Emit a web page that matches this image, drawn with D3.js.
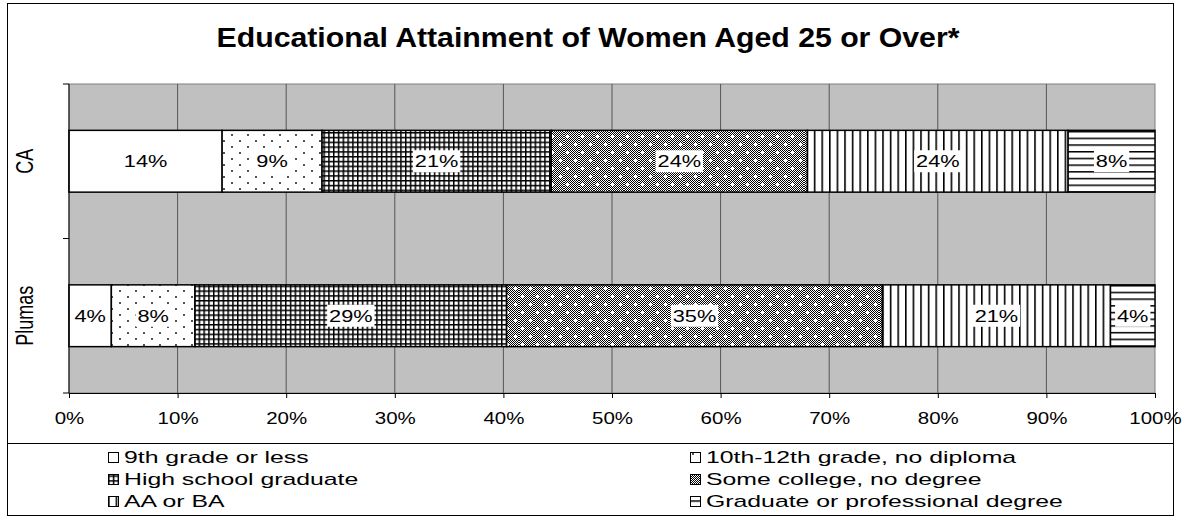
<!DOCTYPE html>
<html>
<head>
<meta charset="utf-8">
<script src="https://cdn.jsdelivr.net/npm/d3@7"></script>
<style>
  body { margin: 0; background: #fff; }
  text { font-family: "Liberation Sans", Arial, sans-serif; fill: #000; }
</style>
</head>
<body>
<div id="chart"></div>
<script>
const categories = ["CA", "Plumas"];
const levels = [
  "9th grade or less",
  "10th-12th grade, no diploma",
  "High school graduate",
  "Some college, no degree",
  "AA or BA",
  "Graduate or professional degree"
];
const caValues = [14.1, 9.2, 21.1, 23.6, 24.0, 8.0];
const plumasValues = [3.9, 7.7, 28.7, 34.6, 21.0, 4.1];
const xTickValues = [0, 10, 20, 30, 40, 50, 60, 70, 80, 90, 100];

const width = 1193, height = 516;
const margin = { top: 84, right: 38, bottom: 123, left: 69 };
const plotW = width - margin.left - margin.right,
      plotH = height - margin.top - margin.bottom;

// the original picture is stretched sideways, so text is too
const sxTick = 1.28, sxLegend = 1.55, sxTitle = 1.08;

const svg = d3.select("#chart").append("svg")
  .attr("width", width)
  .attr("height", height);

const defs = svg.append("defs");

const checker = defs.append("pattern").attr("id", "checker")
  .attr("patternUnits", "userSpaceOnUse").attr("width", 2).attr("height", 2);
checker.append("rect").attr("width", 2).attr("height", 2).attr("fill", "#fff");
checker.append("rect").attr("width", 1).attr("height", 1).attr("fill", "#000");
checker.append("rect").attr("x", 1).attr("y", 1).attr("width", 1).attr("height", 1).attr("fill", "#000");

function pattern(id, w, h) {
  return defs.append("pattern").attr("id", id)
    .attr("patternUnits", "userSpaceOnUse").attr("width", w).attr("height", h);
}

const pDots = pattern("p-dots", 16, 12);
pDots.append("rect").attr("width", 16).attr("height", 12).attr("fill", "#fff");
pDots.append("circle").attr("cx", 3).attr("cy", 3).attr("r", 0.9).attr("fill", "#000");
pDots.append("circle").attr("cx", 11).attr("cy", 9).attr("r", 0.9).attr("fill", "#000");

const pGrid = pattern("p-grid", 4.8, 4.8);
pGrid.append("rect").attr("width", 4.8).attr("height", 4.8).attr("fill", "#000");
pGrid.append("rect").attr("x", 1.5).attr("y", 1.5).attr("width", 3.3).attr("height", 3.3).attr("fill", "#fff");

const pCollege = pattern("p-college", 15, 16);
pCollege.append("rect").attr("width", 15).attr("height", 16).attr("fill", "url(#checker)");
[[3, 4], [11, 12]].forEach(([cx, cy]) => {
  pCollege.append("rect").attr("x", cx - 1).attr("y", cy).attr("width", 3).attr("height", 1).attr("fill", "#fff");
  pCollege.append("rect").attr("x", cx).attr("y", cy - 1).attr("width", 1).attr("height", 3).attr("fill", "#fff");
});

const pV = pattern("p-vlines", 7.6, 10);
pV.append("rect").attr("width", 7.6).attr("height", 10).attr("fill", "#fff");
pV.append("rect").attr("width", 1.6).attr("height", 10).attr("fill", "#000");

const pH = pattern("p-hlines", 10, 6.7);
pH.append("rect").attr("width", 10).attr("height", 6.7).attr("fill", "#fff");
pH.append("rect").attr("width", 10).attr("height", 1.5).attr("fill", "#000");

const fills = ["#fff", "url(#p-dots)", "url(#p-grid)", "url(#p-college)", "url(#p-vlines)", "url(#p-hlines)"];

// outer chart frame
svg.append("rect")
  .attr("x", 7.5).attr("y", 3.5)
  .attr("width", 1166).attr("height", 600)
  .attr("fill", "none").attr("stroke", "#000");

svg.append("text")
  .attr("text-anchor", "middle")
  .attr("transform", `translate(588,47) scale(${sxTitle},1)`)
  .style("font-size", "28px")
  .style("font-weight", "bold")
  .text("Educational Attainment of Women Aged 25 or Over*");

const g = svg.append("g").attr("transform", `translate(${margin.left},${margin.top})`);

const x = d3.scaleLinear().domain([0, 100]).range([0, plotW]);
const y = d3.scaleBand().domain(categories).range([0, plotH]).padding(0);
const barH = y.bandwidth() * 0.4;

g.append("rect")
  .attr("width", plotW).attr("height", plotH)
  .attr("fill", "#c0c0c0").attr("stroke", "#808080");

g.selectAll(".grid")
  .data(xTickValues.slice(1, -1))
  .enter().append("line")
  .attr("x1", d => x(d)).attr("x2", d => x(d))
  .attr("y1", 0).attr("y2", plotH)
  .attr("stroke", "#555").attr("stroke-width", 1);

const rows = categories.map((c, i) => {
  const vals = i === 0 ? caValues : plumasValues;
  const r = { cat: c };
  levels.forEach((l, j) => { r[l] = vals[j]; });
  return r;
});
const series = d3.stack().keys(levels)(rows);

const layer = g.selectAll(".layer")
  .data(series)
  .enter().append("g")
  .attr("class", "layer");

layer.selectAll("rect")
  .data((d, i) => d.map(p => ({ p, i })))
  .enter().append("rect")
  .attr("x", d => x(d.p[0]))
  .attr("y", d => y(d.p.data.cat) + (y.bandwidth() - barH) / 2)
  .attr("width", d => x(d.p[1]) - x(d.p[0]))
  .attr("height", barH)
  .attr("fill", d => fills[d.i])
  .attr("stroke", "#000")
  .attr("stroke-width", 1.5);

// value labels with white boxes
layer.selectAll(".lbl")
  .data(d => d)
  .enter().append("g")
  .attr("class", "lbl")
  .attr("transform", d => `translate(${x((d[0] + d[1]) / 2)},${y(d.data.cat) + y.bandwidth() / 2}) scale(${sxTick},1)`)
  .each(function (d) {
    const lg = d3.select(this);
    const t = lg.append("text")
      .attr("text-anchor", "middle")
      .attr("dy", "0.36em")
      .style("font-size", "17px")
      .text(Math.round(d[1] - d[0]) + "%");
    const b = t.node().getBBox();
    lg.insert("rect", "text")
      .attr("x", b.x - 1.5).attr("y", -11)
      .attr("width", b.width + 3).attr("height", 22)
      .attr("fill", "#fff");
  });

// bottom axis
const xAxis = g.append("g")
  .attr("transform", `translate(0,${plotH})`)
  .call(d3.axisBottom(x).tickValues(xTickValues).tickSize(5).tickPadding(15)
    .tickFormat(d => d + "%"));
xAxis.select(".domain").attr("stroke", "#000");
xAxis.selectAll(".tick line").attr("stroke", "#000");
xAxis.selectAll(".tick text")
  .style("font-size", "16px")
  .attr("transform", `scale(${sxTick},1)`);

// left axis: ticks at band edges, labels at band centres
const yEdges = [0].concat(categories.map(c => y(c) + y.bandwidth()));
g.append("line").attr("x1", 0).attr("x2", 0).attr("y1", 0).attr("y2", plotH).attr("stroke", "#000");
g.selectAll(".ytick")
  .data(yEdges)
  .enter().append("line")
  .attr("x1", -6).attr("x2", 0)
  .attr("y1", d => d).attr("y2", d => d)
  .attr("stroke", "#000");
g.selectAll(".ylab")
  .data(categories)
  .enter().append("text")
  .attr("text-anchor", "middle")
  .attr("dy", "0.35em")
  .attr("transform", d => `translate(-44,${y(d) + y.bandwidth() / 2}) scale(${sxTick},1) rotate(-90)`)
  .style("font-size", "18px")
  .text(d => d);

// legend
svg.append("rect")
  .attr("x", 7.5).attr("y", 443.5)
  .attr("width", 1166).attr("height", 72)
  .attr("fill", "#fff").attr("stroke", "#000");

const legendCols = [108, 690];
const legendRows = [463, 485, 507];
const item = svg.selectAll(".legend")
  .data(levels)
  .enter().append("g")
  .attr("class", "legend")
  .attr("transform", (d, i) => `translate(${legendCols[i % 2]},${legendRows[Math.floor(i / 2)]})`);
item.append("rect")
  .attr("x", 0.5).attr("y", -10.5)
  .attr("width", 10).attr("height", 10)
  .attr("fill", (d, i) => fills[i])
  .attr("stroke", "#000");
item.append("text")
  .attr("transform", `translate(16,0) scale(${sxLegend},1)`)
  .style("font-size", "16px")
  .text(d => d);
</script>
</body>
</html>
